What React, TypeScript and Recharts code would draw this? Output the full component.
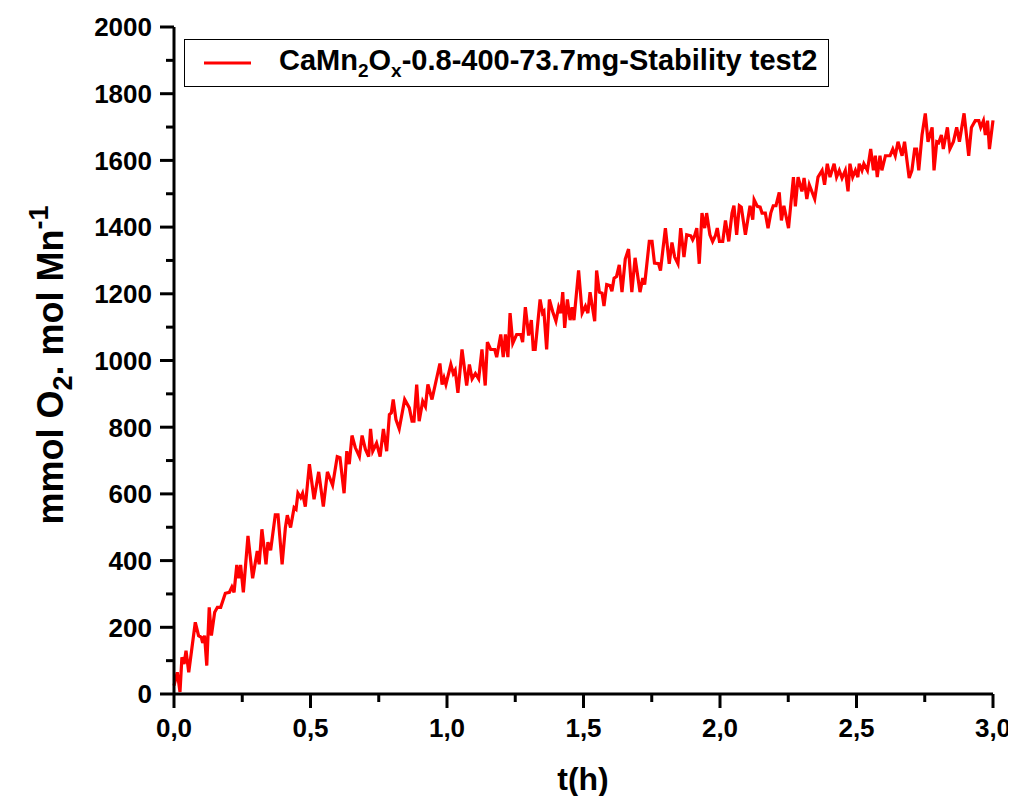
import React from "react";
import { LineChart, Line, XAxis, YAxis, Label } from "recharts";

// t (h), mmol O2 / mol Mn, in four stretches
const firstStretch: [number, number][] = [
  [0, 25], [0.012, 65], [0.022, 6], [0.029, 110], [0.037, 90], [0.044, 130], [0.054, 65],
  [0.066, 140], [0.078, 215], [0.09, 175], [0.1, 170], [0.105, 153], [0.112, 175], [0.12, 85],
  [0.129, 260], [0.137, 175], [0.149, 245], [0.159, 260], [0.171, 260], [0.188, 302], [0.203, 305],
  [0.212, 321], [0.22, 305], [0.23, 387], [0.237, 347], [0.244, 387], [0.254, 305], [0.271, 474],
  [0.288, 347], [0.305, 429], [0.312, 389], [0.322, 494], [0.337, 389], [0.344, 455], [0.354, 431],
  [0.371, 537], [0.381, 537], [0.396, 389], [0.408, 499], [0.415, 536], [0.427, 499], [0.44, 559],
  [0.447, 554], [0.454, 602], [0.464, 589], [0.471, 602], [0.481, 562], [0.496, 689], [0.513, 584],
  [0.53, 666], [0.547, 562], [0.562, 666], [0.581, 626], [0.598, 712], [0.608, 709], [0.623, 602],
  [0.633, 728], [0.642, 689], [0.652, 775], [0.664, 739], [0.679, 712], [0.689, 775], [0.701, 734],
  [0.713, 712], [0.72, 795], [0.728, 728], [0.742, 752], [0.755, 712], [0.767, 795], [0.779, 728],
];

const secondStretch: [number, number][] = [
  [0.789, 838], [0.796, 843], [0.803, 883], [0.813, 823], [0.825, 795], [0.845, 883], [0.862, 858],
  [0.872, 818], [0.879, 818], [0.889, 928], [0.898, 818], [0.911, 878], [0.921, 862], [0.93, 928],
  [0.945, 883], [0.957, 928], [0.974, 991], [0.982, 928], [0.989, 948], [0.996, 928], [1.014, 988],
  [1.023, 961], [1.03, 971], [1.04, 903], [1.055, 1033], [1.072, 925], [1.082, 988], [1.092, 945],
  [1.104, 961], [1.116, 945], [1.128, 1033], [1.14, 925], [1.148, 1055], [1.16, 1033], [1.175, 1033],
  [1.182, 1010], [1.197, 1078], [1.206, 1010], [1.214, 1078], [1.223, 1010], [1.231, 1142], [1.241, 1052],
  [1.255, 1078], [1.27, 1078], [1.277, 1055], [1.287, 1160], [1.299, 1075], [1.309, 1121], [1.316, 1033],
  [1.323, 1033], [1.341, 1183], [1.35, 1142], [1.355, 1147], [1.365, 1033], [1.375, 1183], [1.387, 1147],
  [1.399, 1118], [1.409, 1160], [1.417, 1142], [1.424, 1205], [1.431, 1098], [1.441, 1183], [1.451, 1121],
  [1.458, 1160], [1.465, 1121], [1.482, 1270],
];

const thirdStretch: [number, number][] = [
  [1.495, 1142], [1.507, 1163], [1.516, 1142], [1.524, 1205], [1.541, 1118], [1.548, 1270], [1.558, 1205],
  [1.568, 1202], [1.575, 1163], [1.585, 1228], [1.597, 1225], [1.604, 1208], [1.612, 1247], [1.621, 1252],
  [1.631, 1287], [1.641, 1205], [1.653, 1304], [1.665, 1334], [1.677, 1205], [1.689, 1308], [1.707, 1205],
  [1.717, 1247], [1.724, 1228], [1.741, 1357], [1.751, 1357], [1.76, 1292], [1.775, 1290], [1.782, 1270],
  [1.8, 1397], [1.814, 1290], [1.824, 1354], [1.834, 1310], [1.846, 1290], [1.856, 1397], [1.868, 1310],
  [1.878, 1377], [1.893, 1374], [1.9, 1362], [1.907, 1374], [1.915, 1397], [1.924, 1290], [1.934, 1442],
  [1.944, 1397], [1.951, 1442], [1.963, 1377], [1.973, 1357], [1.983, 1374], [1.99, 1397], [1.998, 1357],
  [2.01, 1357], [2.02, 1420], [2.032, 1357], [2.044, 1442], [2.051, 1464], [2.061, 1377], [2.071, 1464],
  [2.078, 1460], [2.093, 1377], [2.11, 1464], [2.12, 1422], [2.125, 1482], [2.137, 1462], [2.147, 1460],
  [2.154, 1442], [2.166, 1442], [2.176, 1397], [2.186, 1442], [2.195, 1464], [2.205, 1464], [2.217, 1504],
  [2.225, 1420], [2.234, 1464], [2.251, 1397],
];

const lastStretch: [number, number][] = [
  [2.269, 1550], [2.276, 1462], [2.286, 1550], [2.3, 1507], [2.308, 1547], [2.318, 1484], [2.327, 1527],
  [2.347, 1484], [2.359, 1550], [2.374, 1570], [2.383, 1527], [2.393, 1590], [2.403, 1550], [2.418, 1590],
  [2.427, 1550], [2.437, 1570], [2.447, 1547], [2.459, 1570], [2.469, 1507], [2.476, 1590], [2.486, 1550],
  [2.496, 1570], [2.505, 1550], [2.51, 1590], [2.52, 1570], [2.527, 1590], [2.54, 1570], [2.552, 1634],
  [2.562, 1570], [2.569, 1614], [2.576, 1550], [2.586, 1614], [2.593, 1570], [2.606, 1614], [2.623, 1614],
  [2.633, 1634], [2.642, 1614], [2.652, 1656], [2.667, 1614], [2.676, 1656], [2.693, 1547], [2.703, 1570],
  [2.713, 1634], [2.72, 1634], [2.728, 1570], [2.74, 1676], [2.752, 1741], [2.762, 1656], [2.769, 1676],
  [2.777, 1699], [2.784, 1570], [2.794, 1656], [2.801, 1653], [2.811, 1676], [2.818, 1634], [2.833, 1699],
  [2.842, 1634], [2.855, 1656], [2.867, 1699], [2.877, 1656], [2.894, 1741], [2.911, 1614], [2.921, 1699],
  [2.935, 1719], [2.948, 1719], [2.955, 1699], [2.965, 1719], [2.972, 1676], [2.98, 1719], [2.987, 1634],
  [3.0, 1720],
];

const xTicks = [0, 0.25, 0.5, 0.75, 1, 1.25, 1.5, 1.75, 2, 2.25, 2.5, 2.75, 3];
const yTicks = [
  0, 100, 200, 300, 400, 500, 600, 700, 800, 900, 1000,
  1100, 1200, 1300, 1400, 1500, 1600, 1700, 1800, 1900, 2000,
];

const seriesName = "CaMn2Ox-0.8-400-73.7mg-Stability test2";

const data = [...firstStretch, ...secondStretch, ...thirdStretch, ...lastStretch].map(([t, v]) => ({ t, v }));

const FONT = "'Liberation Sans', Arial, Helvetica, sans-serif";

const XTick = ({ x, y, payload }: any) => {
  const v = payload.value as number;
  const major = Math.abs(v * 2 - Math.round(v * 2)) < 1e-6;
  return (
    <g>
      <line x1={x} y1={y} x2={x} y2={y + (major ? 14 : 8)} stroke="#000" strokeWidth={3} />
      {major && (
        <text x={x} y={y + 43} textAnchor="middle" fontFamily={FONT} fontWeight="bold" fontSize={26} fill="#000">
          {v.toFixed(1).replace(".", ",")}
        </text>
      )}
    </g>
  );
};

const YTick = ({ x, y, payload }: any) => {
  const v = payload.value as number;
  const major = v % 200 === 0;
  return (
    <g>
      <line x1={x} y1={y} x2={x - (major ? 14 : 8)} y2={y} stroke="#000" strokeWidth={3} />
      {major && (
        <text x={x - 22} y={y} dy="0.36em" textAnchor="end" fontFamily={FONT} fontWeight="bold" fontSize={26} fill="#000">
          {v}
        </text>
      )}
    </g>
  );
};

export default function App() {
  return (
    <div style={{ position: "relative", width: 1008, height: 788, background: "#fff" }}>
      <LineChart width={1008} height={788} data={data} margin={{ top: 19, right: 23, bottom: 0, left: 0 }}>
        <XAxis
          dataKey="t"
          type="number"
          domain={[0, 3]}
          ticks={xTicks}
          interval={0}
          tickSize={0}
          tickMargin={0}
          tickLine={false}
          tick={<XTick />}
          axisLine={{ stroke: "#000", strokeWidth: 3 }}
          height={102}
        >
          <Label
            content={() => (
              <text x={575} y={782} textAnchor="middle" fontFamily={FONT} fontWeight="bold" fontSize={32} fill="#000">
                t(h)
              </text>
            )}
          />
        </XAxis>
        <YAxis
          type="number"
          domain={[0, 2000]}
          ticks={yTicks}
          interval={0}
          tickSize={0}
          tickMargin={0}
          tickLine={false}
          tick={<YTick />}
          axisLine={{ stroke: "#000", strokeWidth: 3 }}
          width={166}
        >
          <Label
            content={() => (
              <text
                transform="translate(55, 357) rotate(-90)"
                textAnchor="middle"
                fontFamily={FONT}
                fontWeight="bold"
                fontSize={36}
                fill="#000"
              >
                mmol O
                <tspan fontSize={27} dy={9}>2</tspan>
                <tspan dy={-9}>. mol Mn</tspan>
                <tspan fontSize={27} dy={-15}>-1</tspan>
              </text>
            )}
          />
        </YAxis>
        <Line
          type="linear"
          dataKey="v"
          name={seriesName}
          stroke="#ff0000"
          strokeWidth={3.2}
          dot={false}
          activeDot={false}
          isAnimationActive={false}
        />
      </LineChart>
      <svg
        width={1008}
        height={788}
        style={{ position: "absolute", left: 0, top: 0, pointerEvents: "none" }}
      >
        <rect x={176.5} y={31.5} width={644} height={47} fill="#fff" stroke="#000" strokeWidth={1} />
        <line x1={196} y1={55} x2={243} y2={55} stroke="#ff0000" strokeWidth={3} />
        <text x={271} y={62} fontFamily={FONT} fontWeight="bold" fontSize={29} fill="#000">
          CaMn
          <tspan fontSize={19} dy={7}>2</tspan>
          <tspan dy={-7}>O</tspan>
          <tspan fontSize={19} dy={7}>x</tspan>
          <tspan dy={-7}>-0.8-400-73.7mg-Stability test2</tspan>
        </text>
      </svg>
    </div>
  );
}
